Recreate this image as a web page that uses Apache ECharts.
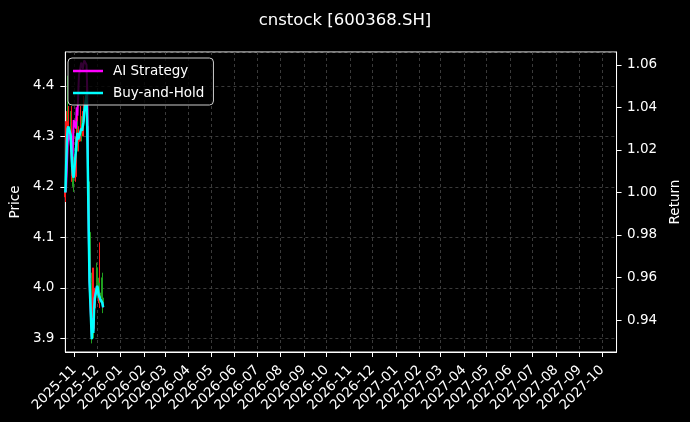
<!DOCTYPE html>
<html>
<head>
<meta charset="utf-8">
<script src="https://cdn.jsdelivr.net/npm/echarts@6/dist/echarts.min.js"></script>
<style>
	html, body { margin: 0; padding: 0; background: #000; }
	#chart { width: 690px; height: 422px; }
</style>
</head>
<body>
<div id="chart"></div>
<script>
// trading days shown
var dates = ['2025-10-20', '2025-10-21', '2025-10-22', '2025-10-23', '2025-10-24',
		'2025-10-27', '2025-10-28', '2025-10-29', '2025-10-30', '2025-10-31',
		'2025-11-03', '2025-11-04', '2025-11-05', '2025-11-06', '2025-11-07',
		'2025-11-10', '2025-11-11', '2025-11-12', '2025-11-13', '2025-11-14',
		'2025-11-17', '2025-11-18', '2025-11-19', '2025-11-20', '2025-11-21',
		'2025-11-24', '2025-11-25', '2025-11-26', '2025-11-27', '2025-11-28',
		'2025-12-01', '2025-12-02', '2025-12-03', '2025-12-04', '2025-12-05',
		'2025-12-08', '2025-12-09'];

// [open, close, low, high]
var ohlc = [[4.18, 4.19, 4.17, 4.21], [4.19, 4.25, 4.19, 4.33], [4.25, 4.30, 4.24, 4.35],
		[4.33, 4.31, 4.28, 4.42], [4.30, 4.33, 4.29, 4.36], [4.33, 4.30, 4.28, 4.35],
		[4.30, 4.27, 4.25, 4.31], [4.22, 4.24, 4.21, 4.36], [4.24, 4.22, 4.20, 4.27],
		[4.23, 4.22, 4.19, 4.26], [4.22, 4.28, 4.21, 4.30], [4.28, 4.30, 4.26, 4.33],
		[4.30, 4.31, 4.28, 4.34], [4.31, 4.29, 4.27, 4.33], [4.29, 4.30, 4.27, 4.32],
		[4.30, 4.32, 4.29, 4.36], [4.32, 4.31, 4.29, 4.34], [4.31, 4.32, 4.30, 4.35],
		[4.32, 4.33, 4.30, 4.36], [4.33, 4.35, 4.32, 4.38], [4.35, 4.38, 4.34, 4.42],
		[4.38, 4.32, 4.30, 4.40], [4.32, 4.21, 4.20, 4.33], [4.21, 4.11, 4.10, 4.22],
		[4.11, 4.02, 4.00, 4.12], [4.01, 3.90, 3.89, 4.03], [3.91, 3.94, 3.90, 4.04],
		[3.94, 3.92, 3.90, 3.97], [3.92, 3.96, 3.91, 4.04], [3.96, 3.98, 3.94, 4.00],
		[4.04, 4.01, 3.99, 4.05], [4.01, 4.00, 3.98, 4.03], [4.00, 3.99, 3.97, 4.02],
		[3.97, 3.99, 3.96, 4.09], [3.99, 3.98, 3.97, 4.01], [4.02, 3.98, 3.97, 4.03],
		[3.98, 3.97, 3.95, 4.02]];

var aiStrategy = [1.000, 1.003, 1.012, 1.022, 1.028,
		1.024, 1.018, 1.012, 1.022, 1.034,
		1.030, 1.040, 1.036, 1.046, 1.055,
		1.061, 1.060, 1.058, 1.060, 1.062,
		1.060, 1.048, 1.008, 0.980, 0.958,
		0.932, 0.941, 0.935, 0.946, 0.951,
		0.956, 0.955, 0.952, 0.951, 0.950,
		0.948, 0.946];

var buyHold = [1.000, 1.012, 1.024, 1.030, 1.031,
		1.027, 1.020, 1.012, 1.008, 1.007,
		1.020, 1.025, 1.028, 1.025, 1.026,
		1.030, 1.029, 1.031, 1.033, 1.038,
		1.046, 1.030, 1.005, 0.980, 0.958,
		0.931, 0.940, 0.934, 0.945, 0.950,
		0.956, 0.955, 0.952, 0.951, 0.950,
		0.948, 0.946];

var xMin = '2025-10-20', xMax = '2027-10-20';
var priceMin = 3.873, priceMax = 4.467;
var retMin = 0.925, retMax = 1.066;

var font = 'DejaVu Sans';
var gridLine = {
	show : true,
	lineStyle : {
		color : '#4a4a4a',
		type : [3, 3],
		width : 0.8
	}
};

function pair(vals) {
	var out = [];
	for (var i = 0; i < dates.length; i++) {
		out.push([dates[i], vals[i]]);
	}
	return out;
}

var candleData = [];
for (var i = 0; i < dates.length; i++) {
	candleData.push([dates[i]].concat(ohlc[i]));
}

function pad(n) {
	return n < 10 ? '0' + n : '' + n;
}

var chart = echarts.init(document.getElementById('chart'));

var option = {
	backgroundColor : '#000',
	animation : false,
	textStyle : {
		fontFamily : font
	},
	title : {
		text : 'cnstock [600368.SH]',
		left : 'center',
		top : 7,
		textStyle : {
			color : '#fff',
			fontSize : 16.5,
			fontWeight : 'normal',
			fontFamily : font
		}
	},
	legend : {
		orient : 'vertical',
		left : 68,
		top : 58,
		padding : [6, 9, 5, 5],
		itemGap : 8,
		itemWidth : 30,
		itemHeight : 2.5,
		icon : 'rect',
		backgroundColor : 'rgba(0,0,0,0.8)',
		borderColor : '#cccccc',
		borderWidth : 1,
		borderRadius : 4,
		data : ['AI Strategy', 'Buy-and-Hold'],
		textStyle : {
			color : '#fff',
			fontSize : 13.5,
			fontFamily : font,
			padding : [0, 0, 0, 5]
		}
	},
	grid : {
		left : 61,
		right : 70,
		top : 52,
		bottom : 70,
		show : true,
		borderColor : '#fff',
		borderWidth : 1,
		containLabel : false
	},
	xAxis : {
		type : 'time',
		min : xMin,
		max : xMax,
		splitNumber : 24,
		maxInterval : 31 * 24 * 3600 * 1000,
		axisLine : {
			show : true,
			lineStyle : {
				color : '#fff'
			}
		},
		axisTick : {
			show : true,
			length : 5,
			lineStyle : {
				color : '#fff'
			}
		},
		splitLine : gridLine,
		axisLabel : {
			color : '#fff',
			fontSize : 13.5,
			fontFamily : font,
			rotate : 45,
			margin : 16,
			showMinLabel : false,
			showMaxLabel : false,
			formatter : function(v) {
				var d = new Date(v);
				return d.getFullYear() + '-' + pad(d.getMonth() + 1);
			}
		}
	},
	yAxis : [{
				type : 'value',
				name : 'Price',
				nameLocation : 'middle',
				nameGap : 42,
				nameTextStyle : {
					color : '#fff',
					fontSize : 13.5,
					fontFamily : font
				},
				min : priceMin,
				max : priceMax,
				splitNumber : 5,
				axisLine : {
					show : true,
					lineStyle : {
						color : '#fff'
					}
				},
				axisTick : {
					show : true,
					length : 5,
					lineStyle : {
						color : '#fff'
					}
				},
				splitLine : gridLine,
				axisLabel : {
					color : '#fff',
					fontSize : 13.5,
					fontFamily : font,
					margin : 11,
					showMinLabel : false,
					showMaxLabel : false,
					formatter : function(v) {
						return v.toFixed(1);
					}
				}
			}, {
				type : 'value',
				name : 'Return',
				nameLocation : 'middle',
				nameGap : 46,
				nameTextStyle : {
					color : '#fff',
					fontSize : 13.5,
					fontFamily : font
				},
				min : retMin,
				max : retMax,
				splitNumber : 7,
				axisLine : {
					show : true,
					lineStyle : {
						color : '#fff'
					}
				},
				axisTick : {
					show : true,
					length : 5,
					lineStyle : {
						color : '#fff'
					}
				},
				splitLine : {
					show : false
				},
				axisLabel : {
					color : '#fff',
					fontSize : 13.5,
					fontFamily : font,
					margin : 10.5,
					showMinLabel : false,
					showMaxLabel : false,
					formatter : function(v) {
						return v.toFixed(2);
					}
				}
			}],
	series : [{
				name : 'Price',
				type : 'candlestick',
				yAxisIndex : 0,
				barWidth : 1.5,
				data : candleData,
				itemStyle : {
					color : '#ff1a1a',
					color0 : '#1fa01f',
					borderColor : '#ff1a1a',
					borderColor0 : '#1fa01f',
					borderWidth : 1
				},
				z : 1
			}, {
				name : 'AI Strategy',
				type : 'line',
				yAxisIndex : 1,
				showSymbol : false,
				data : pair(aiStrategy),
				lineStyle : {
					color : '#ff00ff',
					width : 2
				},
				itemStyle : {
					color : '#ff00ff'
				},
				z : 2
			}, {
				name : 'Buy-and-Hold',
				type : 'line',
				yAxisIndex : 1,
				showSymbol : false,
				data : pair(buyHold),
				lineStyle : {
					color : '#00ffff',
					width : 2.5
				},
				itemStyle : {
					color : '#00ffff'
				},
				z : 3
			}]
};

chart.setOption(option);
</script>
</body>
</html>
